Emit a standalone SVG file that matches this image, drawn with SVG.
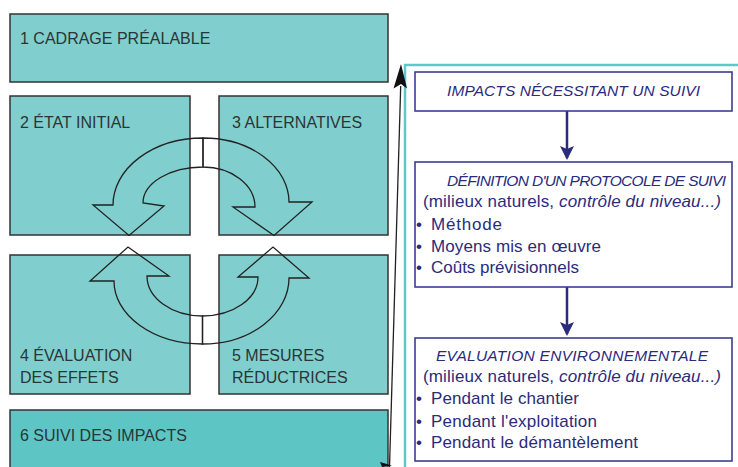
<svg xmlns="http://www.w3.org/2000/svg" width="738" height="467" viewBox="0 0 738 467">
<defs>
<style>
.box{fill:#80CFCE;stroke:#333;stroke-width:1.5}
.box6{fill:#5EC5C5;stroke:#333;stroke-width:1.5}
.lbl{font-family:"Liberation Sans",Arial,sans-serif;font-size:16px;fill:#2a3535}
.cyc{fill:none;stroke:#222;stroke-width:1.3;stroke-linejoin:miter}
.pbox{fill:#fff;stroke:#3d3d8f;stroke-width:1.6}
.pt{font-family:"Liberation Sans",Arial,sans-serif;font-size:17px;fill:#2b2b7c}
.ph{font-family:"Liberation Sans",Arial,sans-serif;font-size:15.5px;font-style:italic;fill:#2b2b7c}
.it{font-style:italic}
.nav{stroke:#2b2b7c;stroke-width:2.5;fill:none}
</style>
<marker id="navArr" markerWidth="14" markerHeight="16" refX="12" refY="7" orient="auto" markerUnits="userSpaceOnUse" viewBox="0 0 14 14">
<path d="M0,0 L14,7 L0,14 L3,7 Z" fill="#2b2b7c"/>
</marker>
</defs>
<rect width="738" height="467" fill="#fff"/>

<g id="n1"><rect class="box" x="10" y="14" width="378" height="68"/><text class="lbl" x="20" y="44">1 CADRAGE PRÉALABLE</text></g>
<g id="n2"><rect class="box" x="10" y="96" width="180" height="139"/><text class="lbl" x="20" y="128">2 ÉTAT INITIAL</text></g>
<g id="n3"><rect class="box" x="219" y="96" width="169" height="139"/><text class="lbl" x="232" y="128">3 ALTERNATIVES</text></g>
<g id="n4"><rect class="box" x="10" y="255" width="180" height="139"/><text class="lbl" x="20" y="361">4 ÉVALUATION</text><text class="lbl" x="20" y="383">DES EFFETS</text></g>
<g id="n5"><rect class="box" x="219" y="255" width="169" height="139"/><text class="lbl" x="232" y="361">5 MESURES</text><text class="lbl" x="232" y="383">RÉDUCTRICES</text></g>
<g id="n6"><rect class="box6" x="10" y="410" width="378" height="62"/><text class="lbl" x="20" y="441">6 SUIVI DES IMPACTS</text></g>

<g id="cycle">
<path class="cyc" d="M203,138 A90,67 0 0 0 113,205 L93,205 L129,235.5 L164,206 L143,203 A60,36 0 0 1 203,167 Z"/>
<path class="cyc" d="M203,138 A86,64 0 0 1 289,202 L312,202 L274,235.5 L233,207 L255,207 A52,40 0 0 0 203,167 Z"/>
<path class="cyc" d="M202.5,344 A88.5,63 0 0 1 114,281 L90,281 L128,247 L169,276 L147,276 A55.5,40 0 0 0 202.5,316 Z"/>
<path class="cyc" d="M202.5,344 A86.5,66 0 0 0 289,278 L309,278 L273,247 L238,277 L258,277 A55.5,39 0 0 1 202.5,316 Z"/>
</g>

<g id="panel">
<path d="M738,65 L405,65 L405,467" fill="none" stroke="#5CC9C9" stroke-width="2.5"/>
</g>

<g id="connectors">
<line x1="389.5" y1="467" x2="400.7" y2="86" stroke="#222" stroke-width="1.3"/>
<path d="M401,64 L407,88.5 L401,84 L393.5,88.5 Z" fill="#111"/>
<path d="M380,462 L392,465.5 L382,467 Z" fill="#111"/>
<line class="nav" x1="567" y1="111" x2="567" y2="158" marker-end="url(#navArr)"/>
<line class="nav" x1="567" y1="287" x2="567" y2="334" marker-end="url(#navArr)"/>
</g>

<g id="pA"><rect class="pbox" x="415" y="72" width="317" height="39"/><text class="ph" x="447" y="96" textLength="253" lengthAdjust="spacing">IMPACTS NÉCESSITANT UN SUIVI</text></g>

<g id="pB"><rect class="pbox" x="415" y="162" width="317" height="125"/>
<text class="ph" x="447" y="186" textLength="279" lengthAdjust="spacing">DÉFINITION D'UN PROTOCOLE DE SUIVI</text>
<text class="pt" x="423" y="207" textLength="298" lengthAdjust="spacing">(milieux naturels, <tspan class="it">contrôle du niveau...)</tspan></text>
<text class="pt" x="416" y="230">•</text><text class="pt" x="431" y="230" textLength="71" lengthAdjust="spacing">Méthode</text>
<text class="pt" x="416" y="252">•</text><text class="pt" x="431" y="252" textLength="170" lengthAdjust="spacing">Moyens mis en œuvre</text>
<text class="pt" x="416" y="273">•</text><text class="pt" x="431" y="273" textLength="148" lengthAdjust="spacing">Coûts prévisionnels</text>
</g>

<g id="pC"><rect class="pbox" x="415" y="338" width="317" height="123"/>
<text class="ph" x="436" y="361" textLength="272" lengthAdjust="spacing">EVALUATION ENVIRONNEMENTALE</text>
<text class="pt" x="423" y="382" textLength="298" lengthAdjust="spacing">(milieux naturels, <tspan class="it">contrôle du niveau...)</tspan></text>
<text class="pt" x="416" y="404">•</text><text class="pt" x="431" y="404" textLength="148" lengthAdjust="spacing">Pendant le chantier</text>
<text class="pt" x="416" y="427">•</text><text class="pt" x="431" y="427" textLength="166" lengthAdjust="spacing">Pendant l'exploitation</text>
<text class="pt" x="416" y="448">•</text><text class="pt" x="431" y="448" textLength="207" lengthAdjust="spacing">Pendant le démantèlement</text>
</g>
</svg>
